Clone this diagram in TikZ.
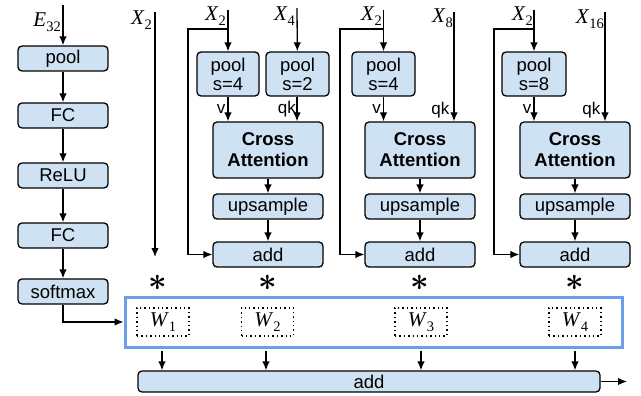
\documentclass[tikz,border=0pt]{standalone}
\usepackage[no-math]{fontspec}
\setmainfont{Liberation Sans}
\newfontfamily\lblfont{Liberation Serif}
\usetikzlibrary{arrows.meta}
\definecolor{boxblue}{HTML}{CFE2F3}
\definecolor{frameblue}{HTML}{6D9EEB}
% italic letter with an upright subscript index
\newcommand{\vname}[2]{{\lblfont\fontsize{21}{22}\selectfont\itshape #1\/}%
  \raisebox{-5pt}{\lblfont\fontsize{14.5}{15}\selectfont #2}}
% enlarged product sign
\newcommand{\prodmark}{\scalebox{1.3}{\fontsize{24}{24}\selectfont\boldmath$\ast$}}
\tikzset{
  blk/.style={draw, fill=boxblue, rounded corners=4pt, line width=1.3pt,
    inner sep=0pt, align=center, font=\fontsize{18.5}{19}\selectfont},
  catt/.style={blk, minimum width=110pt, minimum height=56pt,
    font=\fontsize{18.5}{21}\selectfont\bfseries},
  wbox/.style={draw, line width=1.4pt, dash pattern=on 1.4pt off 3pt,
    minimum width=52pt, minimum height=28pt, inner sep=0pt},
  lab/.style={inner sep=0pt},
  small/.style={inner sep=0pt, font=\fontsize{17}{17}\selectfont},
  arr/.style={line width=1.3pt, -{Latex[length=9pt,width=7.5pt]}},
  ln/.style={line width=1.3pt},
  mult/.style={inner sep=0pt, anchor=base},
}
\begin{document}
\begin{tikzpicture}[x=1pt,y=-1pt]
\useasboundingbox (0,0) rectangle (641,396);

% gating branch
\node[blk, minimum width=90pt, minimum height=25pt] (pool0) at (63,58.5) {pool};
\node[blk, minimum width=90pt, minimum height=25pt] (fc1) at (63,115.5) {FC};
\node[blk, minimum width=90pt, minimum height=25pt] (relu) at (63,175.5) {ReLU};
\node[blk, minimum width=90pt, minimum height=25pt] (fc2) at (63,235.5) {FC};
\node[blk, minimum width=90pt, minimum height=25pt] (soft) at (63,291.5) {softmax};
\coordinate (e32) at (63,5);
\node[lab, anchor=east] at (61,22) {\vname{E}{32}};
\draw[arr] (e32) -- (pool0);
\draw[arr] (pool0) -- (fc1);
\draw[arr] (fc1) -- (relu);
\draw[arr] (relu) -- (fc2);
\draw[arr] (fc2) -- (soft);

% identity branch
\coordinate (x2a) at (155,12);
\coordinate (x2aend) at (155,257);
\node[lab, anchor=east] at (152,20) {\vname{X}{2}};
\draw[arr] (x2a) -- (x2aend);

% module 1
\node[blk, minimum width=62pt, minimum height=44pt] (p1v) at (228,74) {pool\\s=4};
\node[blk, minimum width=63pt, minimum height=44pt] (p1k) at (297.5,74) {pool\\s=2};
\node[catt] (ca1) at (268,150) {Cross\\Attention};
\node[blk, minimum width=110pt, minimum height=25pt] (up1) at (268,206.5) {upsample};
\node[blk, minimum width=110pt, minimum height=25pt] (add1) at (268,254.5) {add};
\coordinate (in1) at (228,10);
\coordinate (br1) at (228,29);
\coordinate (in1k) at (297,8);
\node[lab, anchor=east] at (226,16) {\vname{X}{2}};
\node[lab, anchor=east] at (295,16) {\vname{X}{4}};
\draw[arr] (in1) -- (p1v);
\draw[ln] (br1) -| (188,254.5);
\draw[arr] (188,254.5) -- (add1.west);
\draw[arr] (in1k) -- (p1k);
\draw[arr] (p1v.south) -- (p1v.south |- ca1.north) node[small, midway, left=2pt] {v};
\draw[arr] (p1k.south -| 297,0) -- (297,0 |- ca1.north) node[small, midway, left=0.5pt] {qk};
\draw[arr] (ca1) -- (up1);
\draw[arr] (up1) -- (add1);

% module 2
\node[blk, minimum width=63pt, minimum height=44pt] (p2v) at (383.5,74) {pool\\s=4};
\node[catt] (ca2) at (420,150) {Cross\\Attention};
\node[blk, minimum width=110pt, minimum height=25pt] (up2) at (420,206.5) {upsample};
\node[blk, minimum width=110pt, minimum height=25pt] (add2) at (420,254.5) {add};
\coordinate (in2) at (383.5,10);
\coordinate (br2) at (383.5,29);
\coordinate (in2k) at (454,12);
\node[lab, anchor=east] at (382,16) {\vname{X}{2}};
\node[lab, anchor=east] at (453,18) {\vname{X}{8}};
\draw[arr] (in2) -- (p2v);
\draw[ln] (br2) -| (340,254.5);
\draw[arr] (340,254.5) -- (add2.west);
\draw[arr] (p2v.south) -- (p2v.south |- ca2.north) node[small, midway, left=2pt] {v};
\draw[arr] (in2k) -- (in2k |- ca2.north) node[small, pos=0.9, left=4pt] {qk};
\draw[arr] (ca2) -- (up2);
\draw[arr] (up2) -- (add2);

% module 3
\node[blk, minimum width=64pt, minimum height=44pt] (p3v) at (534,74) {pool\\s=8};
\node[catt] (ca3) at (575,150) {Cross\\Attention};
\node[blk, minimum width=110pt, minimum height=25pt] (up3) at (575,206.5) {upsample};
\node[blk, minimum width=110pt, minimum height=25pt] (add3) at (575,254.5) {add};
\coordinate (in3) at (534,10);
\coordinate (br3) at (534,29);
\coordinate (in3k) at (605,12);
\node[lab, anchor=east] at (533,16) {\vname{X}{2}};
\node[lab, anchor=east] at (604,19) {\vname{X}{16}};
\draw[arr] (in3) -- (p3v);
\draw[ln] (br3) -| (494,254.5);
\draw[arr] (494,254.5) -- (add3.west);
\draw[arr] (p3v.south) -- (p3v.south |- ca3.north) node[small, midway, left=2pt] {v};
\draw[arr] (in3k) -- (in3k |- ca3.north) node[small, pos=0.9, left=4pt] {qk};
\draw[arr] (ca3) -- (up3);
\draw[arr] (up3) -- (add3);

% multiplication marks
\foreach \x/\n in {158/1,268/2,420/3,575/4}
  \node[mult] (ast\n) at (\x,290) {\prodmark};

% weights
\node[draw=frameblue, line width=3pt, minimum width=497pt, minimum height=50pt,
  inner sep=0pt] (wframe) at (373.5,322) {};
\node[wbox] (w1) at (163,322) {\vname{W}{1}};
\node[wbox] (w2) at (267.5,322) {\vname{W}{2}};
\node[wbox] (w3) at (421,322) {\vname{W}{3}};
\node[wbox] (w4) at (575,322) {\vname{W}{4}};
\draw[ln] (soft) |- (90,322);
\draw[arr] (90,322) -- (wframe.west);

% final sum
\node[blk, minimum width=462pt, minimum height=21pt] (addall) at (369,381.5) {add};
\foreach \x in {162,266,421,575}
  \draw[arr] (\x,350.5) -- (\x,0 |- addall.north);
\coordinate (out) at (627,381.5);
\draw[arr] (addall) -- (out);
\end{tikzpicture}
\end{document}
